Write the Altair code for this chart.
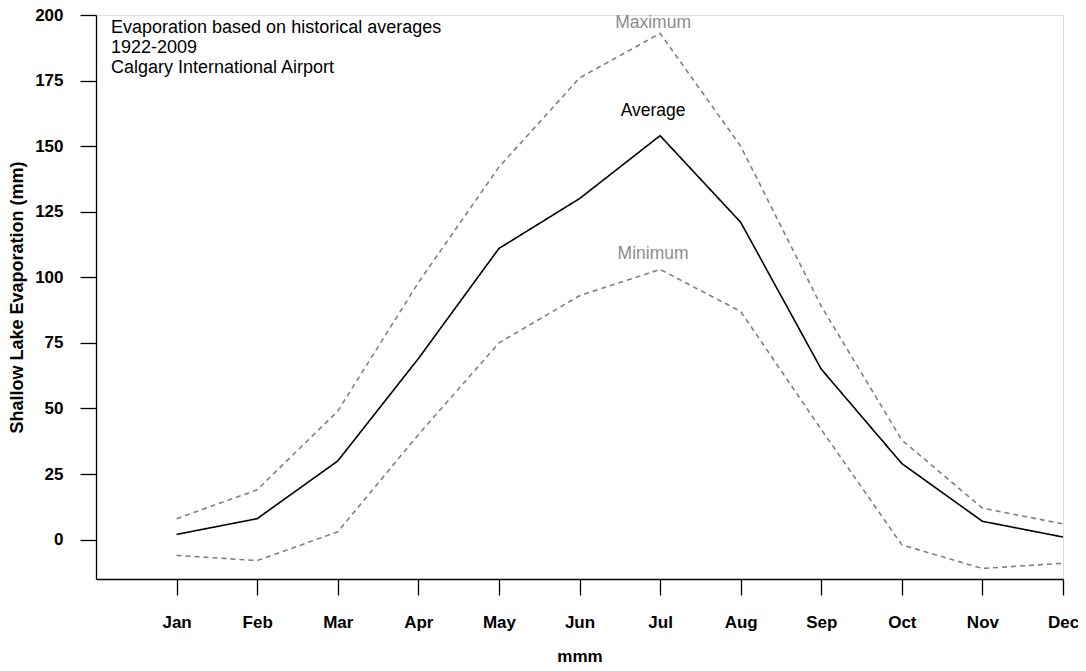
import altair as alt
import pandas as pd

months = ["Jan", "Feb", "Mar", "Apr", "May", "Jun", "Jul", "Aug", "Sep", "Oct", "Nov", "Dec"]
month_num = list(range(1, 13))
average = [2, 8, 30, 69, 111, 130, 154, 121, 65, 29, 7, 1]
maximum = [8, 19, 49, 98, 142, 176, 193, 150, 89, 38, 12, 6]
minimum = [-6, -8, 3, 40, 75, 93, 103, 87, 42, -2, -11, -9]
y_ticks = [0, 25, 50, 75, 100, 125, 150, 175, 200]
title_lines = ["Evaporation based on historical averages", "1922-2009", "Calgary International Airport"]
series_names = ["Average", "Maximum", "Minimum"]
label_values = [163.3, 197, 109]  # y value where each series name is written (at Jul)

rows = []
for name, vals in zip(series_names, [average, maximum, minimum]):
    for m, v in zip(month_num, vals):
        rows.append({"month": m, "value": v, "series": name})
df = pd.DataFrame(rows)

lab_df = pd.DataFrame({"month": [7, 7, 7], "value": label_values, "series": series_names})

FONT = "Liberation Sans, Arial, Helvetica, sans-serif"
month_expr = "[" + ",".join(f"'{m}'" for m in months) + "][datum.value - 1]"

x_enc = alt.X(
    "month:Q",
    scale=alt.Scale(domain=[0, 12], nice=False, zero=False),
    axis=alt.Axis(
        values=month_num, labelExpr=month_expr, title="mmm",
        grid=False, domainColor="black", domainWidth=1.3, tickColor="black",
        tickWidth=1.3, tickSize=16, labelFont=FONT, labelFontSize=17,
        labelFontWeight="bold", labelColor="black", labelPadding=19,
        titleFont=FONT, titleFontSize=17, titleFontWeight="bold",
        titleColor="black", titlePadding=18, labelFlush=False,
    ),
)
y_enc = alt.Y(
    "value:Q",
    scale=alt.Scale(domain=[-15, 200], nice=False, zero=False),
    axis=alt.Axis(
        values=y_ticks, title="Shallow Lake Evaporation (mm)",
        grid=False, domainColor="black", domainWidth=1.3, tickColor="black",
        tickWidth=1.3, tickSize=16, labelFont=FONT, labelFontSize=17,
        labelFontWeight="bold", labelColor="black", labelPadding=17,
        titleFont=FONT, titleFontSize=18, titleFontWeight="bold",
        titleColor="black", titlePadding=8,
    ),
)

color_scale = alt.Scale(domain=series_names, range=["#000000", "#808080", "#808080"])
dash_scale = alt.Scale(domain=series_names, range=[[1, 0], [5, 4], [5, 4]])

lines = alt.Chart(df).mark_line(strokeWidth=1.6).encode(
    x=x_enc,
    y=y_enc,
    color=alt.Color("series:N", scale=color_scale, legend=None),
    strokeDash=alt.StrokeDash("series:N", scale=dash_scale, legend=None),
    detail="series:N",
)

labels = alt.Chart(lab_df).mark_text(
    font=FONT, fontSize=17.5, dx=-7, align="center", baseline="middle"
).encode(
    x="month:Q",
    y="value:Q",
    text="series:N",
    fill=alt.Fill("series:N", scale=alt.Scale(domain=series_names, range=["#000000", "#8c8c8c", "#8c8c8c"]), legend=None),
)

title_layer = alt.Chart(pd.DataFrame({"k": [0]})).mark_text(
    font=FONT, fontSize=18, align="left", baseline="top", color="black",
    text=title_lines, lineHeight=20,
).encode(
    x=alt.value(15),
    y=alt.value(3.5),
)

chart = alt.layer(lines, labels, title_layer).properties(
    width=967, height=564,
    autosize=alt.AutoSizeParams(type="none"),
    padding={"left": 88, "top": 7, "right": 15, "bottom": 84},
).configure_view(stroke=None).configure(background="white")

chart.save("out.html", embed_options={"renderer": "svg", "actions": False})
